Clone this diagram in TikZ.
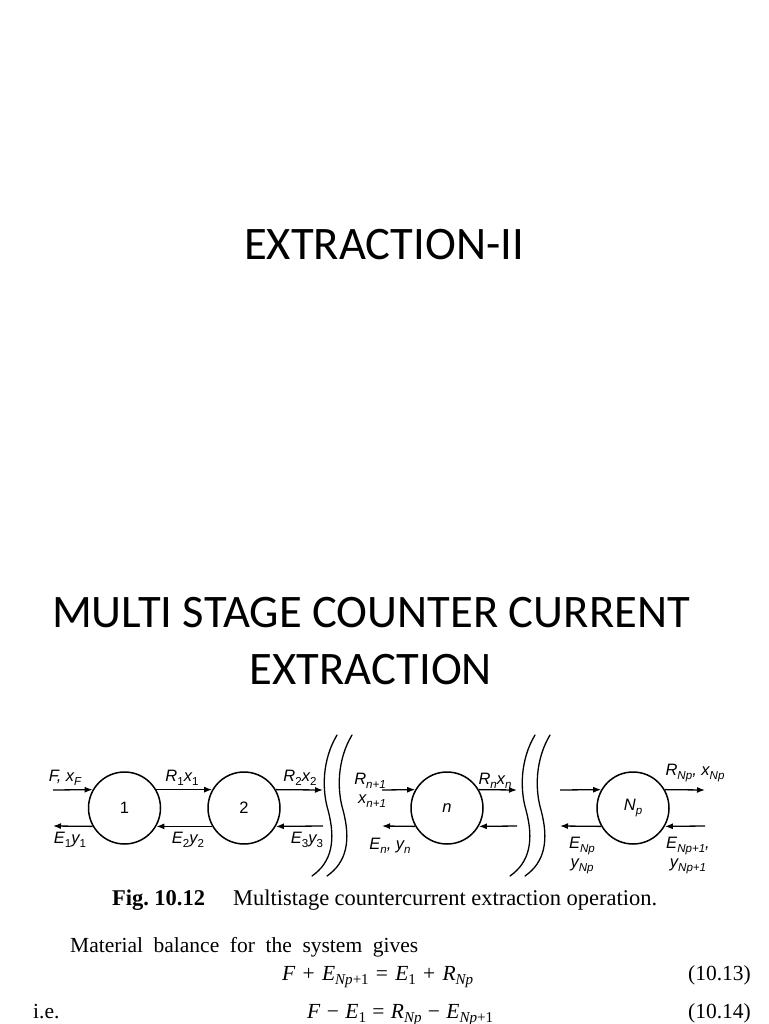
\documentclass[tikz,border=0pt]{standalone}
\usepackage{fontspec}
\setmainfont{Liberation Serif}
\newfontfamily\ttlfont{Carlito}
\newfontfamily\lblfont{Liberation Sans}
\usetikzlibrary{arrows.meta}
\newcommand\lsub[1]{\raisebox{-.45ex}{\scalebox{.7}{#1}}}
\newcommand\lnum[1]{\lsub{\upshape #1}}
\newcommand\iv[1]{\textit{#1}}

\tikzset{
  stage/.style={circle, draw, line width=1.5pt, minimum size=72pt, inner sep=0pt,
    font=\lblfont\fontsize{16.5}{16.5}\selectfont},
  flow/.style={line width=1.3pt, -{Latex[length=8pt,width=6pt]}},
  lbl/.style={font=\lblfont\itshape\fontsize{16.5}{18}\selectfont, inner sep=0pt},
  brk/.style={line width=1.3pt, line cap=round},
  ttl/.style={font=\ttlfont\fontsize{46.6}{56}\selectfont, inner sep=0pt},
  txt/.style={font=\fontsize{21.5}{24}\selectfont, inner sep=0pt},
  captxt/.style={font=\fontsize{22.5}{25}\selectfont, inner sep=0pt},
}

\begin{document}
\begin{tikzpicture}[x=1pt,y=-1pt]
\useasboundingbox (0,0) rectangle (768,1024);

% titles
\node[ttl] (title) at (384,245) {EXTRACTION-II};
\node[ttl] (head1) at (371,613) {MULTI STAGE COUNTER CURRENT};
\node[ttl] (head2) at (371,670) {EXTRACTION};

% stages
\node[stage] (s1) at (124.5,808) {1};
\node[stage] (s2) at (244,808) {2};
\node[stage] (sn) at (447,808) {\itshape n};
\node[stage] (sp) at (633,808) {\itshape N\lsub{p}};

% free ends
\coordinate (fin) at (53,790);
\coordinate (e1) at (53,826);
\coordinate (r2) at (323,790);
\coordinate (e3) at (323,826);
\coordinate (rn1) at (382,790);
\coordinate (en) at (382,826);
\coordinate (rn) at (517,790);
\coordinate (en1) at (517,826);
\coordinate (rp0) at (560,790);
\coordinate (ep) at (560,826);
\coordinate (rp) at (705,790);
\coordinate (ep1) at (705,826);

% streams
\draw[flow] (fin) -- (s1.150);
\draw[flow] (s1.210) -- (e1);
\draw[flow] (s1.30) -- (s2.150);
\draw[flow] (s2.210) -- (s1.330);
\draw[flow] (s2.30) -- (r2);
\draw[flow] (e3) -- (s2.330);
\draw[flow] (rn1) -- (sn.150);
\draw[flow] (sn.210) -- (en);
\draw[flow] (sn.30) -- (rn);
\draw[flow] (en1) -- (sn.330);
\draw[flow] (rp0) -- (sp.150);
\draw[flow] (sp.210) -- (ep);
\draw[flow] (sp.30) -- (rp);
\draw[flow] (ep1) -- (sp.330);

% breaks
\foreach \dx in {0,15,198,213}
  \draw[brk,xshift=\dx pt] (337,735) .. controls (322,760) and (322,790) .. (328,810)
    .. controls (336,840) and (332,862) .. (312,876);

% labels
\node[lbl] (lF) at (65,778) {F, x\lsub{F}};
\node[lbl] (lE1) at (70,840) {E\lnum{1}y\lnum{1}};
\node[lbl] (lR1) at (182,778) {R\lnum{1}x\lnum{1}};
\node[lbl] (lE2) at (188,840) {E\lnum{2}y\lnum{2}};
\node[lbl] (lR2) at (300,778) {R\lnum{2}x\lnum{2}};
\node[lbl] (lE3) at (307,840) {E\lnum{3}y\lnum{3}};
\node[lbl] (lRn1) at (370,781) {R\lsub{n+1}};
\node[lbl] (lxn1) at (372,801) {x\lsub{n+1}};
\node[lbl] (lEn) at (390,846) {E\lsub{n}, y\lsub{n}};
\node[lbl] (lRn) at (495,781) {R\lsub{n}x\lsub{n}};
\node[lbl] (lRp) at (695,773) {R\lsub{Np}, x\lsub{Np}};
\node[lbl] (lEp) at (582,846) {E\lsub{Np}};
\node[lbl] (lyp) at (582,866) {y\lsub{Np}};
\node[lbl] (lEp1) at (688,846) {E\lsub{Np+1},};
\node[lbl] (lyp1) at (688,866) {y\lsub{Np+1}};

% caption and text
\node[captxt,anchor=base west] (cap) at (112,905) {\makebox[545pt][s]{\textbf{Fig.\ 10.12}\quad\ Multistage countercurrent extraction operation.}};
\node[txt,anchor=base west] (mat) at (70,952) {\makebox[348pt][s]{Material balance for the system gives}};
\node[txt,anchor=base west] (eq1) at (282,980) {\makebox[191pt][s]{\iv{F} + \iv{E}\lsub{\iv{Np}+1} = \iv{E}\lnum{1} + \iv{R}\lsub{\iv{Np}}}};
\node[txt,anchor=base west] (eq2) at (307,1018) {\makebox[186pt][s]{\iv{F} − \iv{E}\lnum{1} = \iv{R}\lsub{\iv{Np}} − \iv{E}\lsub{\iv{Np}+1}}};
\node[txt,anchor=base east] (n1) at (751,980) {(10.13)};
\node[txt,anchor=base east] (n2) at (751,1018) {(10.14)};
\node[txt,anchor=base west] (ie) at (33,1018) {i.e.};
\end{tikzpicture}
\end{document}
